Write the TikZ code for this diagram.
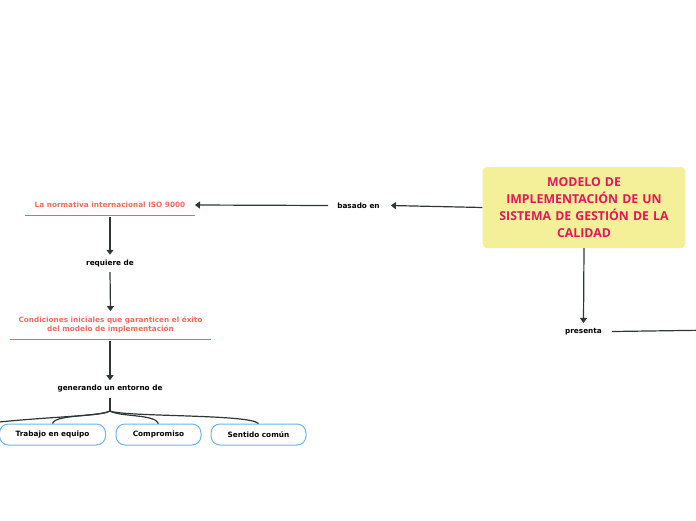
\documentclass[tikz,border=0pt]{standalone}
\usepackage{fontspec}
\setmainfont{DejaVu Sans}
\newfontfamily\titlefont{Open Sans}
\usetikzlibrary{arrows.meta, positioning, calc}
\definecolor{mainfill}{HTML}{F4F09A}
\definecolor{maintext}{HTML}{E3175A}
\definecolor{topictext}{HTML}{F26A5A}
\definecolor{topicline}{HTML}{4A9FD6}
\definecolor{leafline}{HTML}{6AB6EE}
\definecolor{linkdark}{HTML}{2E3833}

\begin{document}
\begin{tikzpicture}[
    x=1pt, y=-1pt,
    every node/.style={font=\fontsize{7.3}{9}\selectfont\bfseries, align=center},
    central/.style={rectangle, rounded corners=4pt, fill=mainfill,
                    text=maintext, minimum width=202pt, minimum height=81pt,
                    font=\titlefont\fontsize{12.3}{17}\selectfont\bfseries, text width=196pt},
    topic/.style={text=topictext, inner sep=2pt},
    uline/.style={draw=topicline, line width=0.8pt},
    lab/.style={text=black, inner sep=2pt},
    leaf/.style={rectangle, rounded corners=9pt, draw=leafline, line width=1pt,
                 fill=white, minimum height=21pt, inner sep=2pt},
    arr/.style={-{Triangle[length=5pt, width=7pt]}, line width=1.2pt, color=linkdark},
    branch/.style={line width=1.2pt, color=linkdark}
]
\useasboundingbox (0,0) rectangle (696,520);
\clip (0,0) rectangle (696,520);

% Nodes
\node[central] (main) at (584,207.5)
    {MODELO DE\\IMPLEMENTACIÓN DE UN\\SISTEMA DE GESTIÓN DE LA\\CALIDAD};

\node[lab] (basado) at (358.5,205.5) {basado en};

\node[topic] (normativa) at (110,205) {La normativa internacional ISO 9000};
\coordinate (normL) at (25,215);
\coordinate (normR) at (195,215);

\node[lab] (requiere) at (110,263.5) {requiere de};

\node[topic] (condiciones) at (110.5,324.5)
    {Condiciones iniciales que garanticen el éxito\\del modelo de implementación};
\coordinate (condL) at (10,339);
\coordinate (condR) at (211,339);

\node[lab] (generando) at (110,389) {generando un entorno de};
\coordinate (fork) at (110,411);

\node[leaf, minimum width=106pt] (trabajo) at (52.5,434.5) {Trabajo en equipo};
\node[leaf, minimum width=85pt] (compromiso) at (158.5,434.5) {Compromiso};
\node[leaf, minimum width=95pt] (sentido) at (258.5,434.5) {Sentido común};
\coordinate (fuera) at (-60,430);

\node[lab] (presenta) at (583.5,331.5) {presenta};
\coordinate (derecha) at (720,330);

% Arrows
\draw[arr] (main.west) -- ([xshift=9pt]basado.east);
\draw[arr] ([xshift=-7pt]basado.west) -- (normR |- normativa);
\draw[uline] (normL) -- (normR);
\draw[uline] (condL) -- (condR);
\draw[arr] (110,217) -- ([yshift=3pt]requiere.north);
\draw[arr] ([yshift=-3pt]requiere.south) -- ([yshift=3pt]condiciones.north);
\draw[arr] (110,341) -- ([yshift=3pt]generando.north);
\draw[branch] ([yshift=-3pt]generando.south) -- (fork);
\draw[branch] (fork) .. controls (100,417) and (55,414) .. (trabajo.north);
\draw[branch] (fork) .. controls (120,417) and (155,414) .. (compromiso.north);
\draw[branch] (fork) .. controls (125,417) and (250,414) .. (sentido.north);
\draw[branch] (fork) .. controls (95,418) and (20,416) .. (fuera);
\draw[arr] (main.south) -- ([yshift=3pt]presenta.north);
\draw[branch] ([xshift=8pt]presenta.east) -- (derecha);

\end{tikzpicture}
\end{document}
